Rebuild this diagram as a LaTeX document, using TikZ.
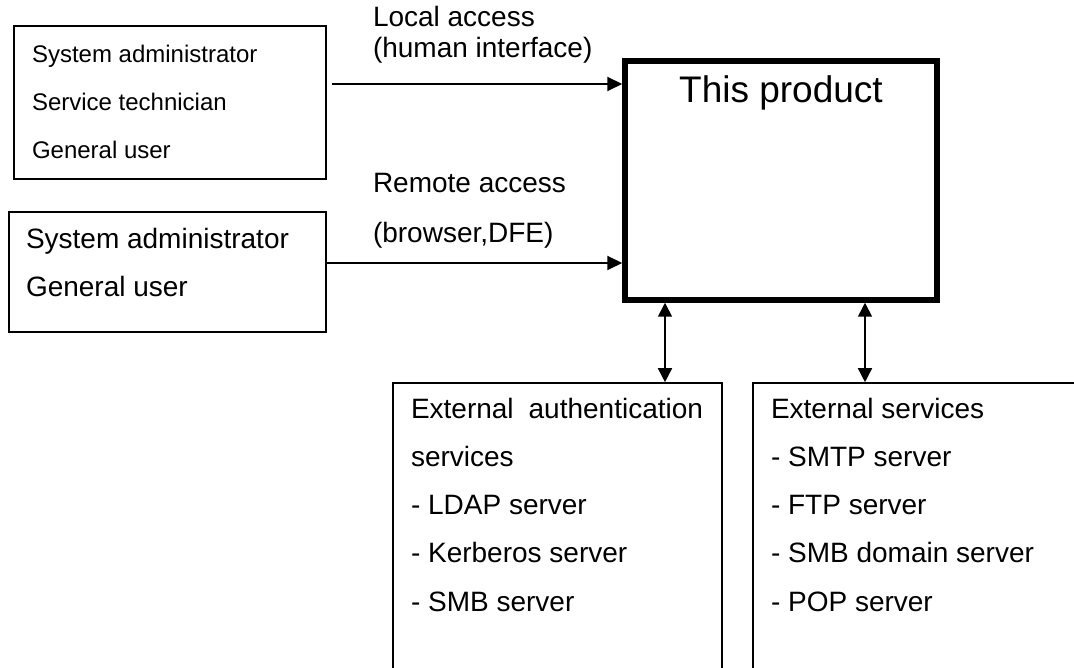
\documentclass[tikz,border=0pt]{standalone}
\usepackage{fontspec}
\setmainfont{Liberation Sans}
\usetikzlibrary{arrows.meta}

\begin{document}
\begin{tikzpicture}[x=1pt,y=-1pt,
  userbox/.style={draw, line width=2pt, inner sep=0pt},
  mainbox/.style={draw, line width=5.5pt, inner sep=0pt},
  svcbox/.style={draw, line width=1.6pt, inner sep=0pt},
  txt/.style={inner sep=0pt, outer sep=0pt, anchor=base west},
  arr/.style={line width=2pt, -{Triangle[length=15pt,width=14pt]}},
  darr/.style={line width=1.6pt, {Triangle[length=14pt,width=14pt]}-{Triangle[length=14pt,width=14pt]}}]

\path[use as bounding box, clip] (0,0) rectangle (1074,668);

% user groups on the left
\node[userbox, minimum width=312pt, minimum height=153pt] (local) at (170,102.5) {};
\node[txt] (localtxt) at (32,62.5) {\parbox[t]{280pt}{\fontsize{24}{48}\selectfont
  System administrator\\Service technician\\General user}};

\node[userbox, minimum width=317pt, minimum height=120pt] (remote) at (167.5,272) {};
\node[txt] (remotetxt) at (26,249) {\parbox[t]{290pt}{\fontsize{28}{48}\selectfont
  System administrator\\General user}};

% the product itself
\node[mainbox, minimum width=312pt, minimum height=239pt] (prod) at (781,180.5) {};
\node[inner sep=0pt, anchor=base] (prodtxt) at (781,103) {\fontsize{37}{40}\selectfont This product};

% external service boxes (running off the lower edge)
\node[svcbox, minimum width=329pt, minimum height=317pt] (auth) at (557.5,541.5) {};
\node[txt] (authtxt) at (411,418) {\parbox[t]{292pt}{\fontsize{28}{48.3}\selectfont
  \tolerance=10000 \hyphenpenalty=10000
  External authentication services\\- LDAP server\\- Kerberos server\\- SMB server}};

\node[svcbox, minimum width=347pt, minimum height=317pt] (ext) at (926.5,541.5) {};
\node[txt] (exttxt) at (771,418) {\parbox[t]{290pt}{\fontsize{28}{48.3}\selectfont
  External services\\- SMTP server\\- FTP server\\- SMB domain server\\- POP server}};

% access paths
\node[txt] (lacc) at (373,27) {\fontsize{28}{31}\selectfont Local access};
\node[txt] (lacc2) at (373,58) {\fontsize{28}{31}\selectfont (human interface)};
\node[txt] (racc) at (373,193) {\fontsize{28}{31}\selectfont Remote access};
\node[txt] (racc2) at (373,243) {\fontsize{28}{31}\selectfont (browser,DFE)};

\coordinate (lstart) at (332,84);
\draw[arr] (lstart) -- (lstart -| prod.west);
\draw[arr] ([yshift=9pt]remote.east) -- ([yshift=9pt]remote.east -| prod.west);

% links to the external services
\draw[darr] ([xshift=107.5pt]auth.north) -- ([xshift=107.5pt]auth.north |- prod.south);
\draw[darr] ([xshift=-61.5pt]ext.north) -- ([xshift=-61.5pt]ext.north |- prod.south);

\end{tikzpicture}
\end{document}
